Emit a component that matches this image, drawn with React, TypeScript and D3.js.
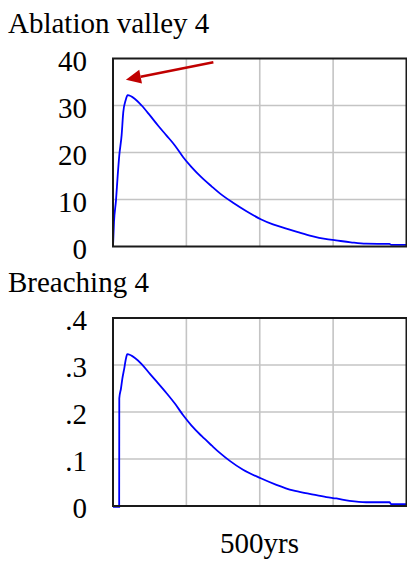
import React from "react";
import * as d3 from "d3";

// ---- data ----
const ablationYears = [0, 1.7, 5.1, 8, 10.7, 14.7, 17.5, 21.5, 25, 37.4, 48.8, 62.9, 77, 91.3, 105.4, 119.6, 133.8, 150.9, 167.9, 182, 204.6, 227.4, 251.7, 272.5, 295.3, 315, 339, 361.5, 380, 405, 431, 471, 474, 500];
const ablationValues = [0, 5.2, 9.8, 15.1, 19.4, 23.7, 28.6, 31.1, 32.2, 31.4, 30.0, 27.9, 25.7, 23.6, 21.5, 19.0, 16.9, 14.7, 12.8, 11.3, 9.3, 7.5, 5.8, 4.7, 3.8, 3.05, 2.2, 1.6, 1.3, 0.9, 0.6, 0.55, 0.35, 0.35];

const breachYears = [0, 10.5, 10.7, 13.6, 15.8, 19.2, 21.5, 24.3, 37.4, 48.8, 62.9, 77, 91.3, 105.4, 119.6, 133.8, 150.9, 167.9, 182, 199, 221.6, 251.7, 278.4, 306.6, 335, 363.5, 380.5, 403, 431, 471, 474, 500];
const breachValues = [-0.002, -0.002, 0.229, 0.25, 0.27, 0.293, 0.31, 0.323, 0.315, 0.302, 0.281, 0.261, 0.24, 0.218, 0.193, 0.171, 0.149, 0.129, 0.113, 0.096, 0.077, 0.059, 0.045, 0.033, 0.026, 0.019, 0.016, 0.011, 0.008, 0.008, 0.004, 0.004];

const xTicks = [125, 250, 375];
const ablationTicks = [0, 10, 20, 30, 40];
const ablationTickLabels = ["0", "10", "20", "30", "40"];
const breachTicks = [0, 0.1, 0.2, 0.3, 0.4];
const breachTickLabels = ["0", ".1", ".2", ".3", ".4"];

const titles = ["Ablation valley 4", "Breaching 4"];
const xLabel = "500yrs";

// arrow annotation in data coordinates (years, value) on the first chart
const arrowFrom = [171, 39.2];
const arrowTo = [22, 35.5];

const FONT = "Liberation Serif, Times New Roman, Tinos, Times, DejaVu Serif, serif";

type PanelProps = {
  top: number;
  years: number[];
  values: number[];
  ticks: number[];
  tickLabels: string[];
  yMax: number;
  title: string;
  arrow?: boolean;
};

function Panel({ top, years, values, ticks, tickLabels, yMax, title, arrow }: PanelProps) {
  const left = 113;
  const right = 406.5;
  const height = 188;
  const x = d3.scaleLinear().domain([0, 500]).range([left, right]);
  const y = d3.scaleLinear().domain([0, yMax]).range([top + height, top]);
  const pts: [number, number][] = years.map((t, i) => [t, values[i]]);
  const line = d3
    .line<[number, number]>()
    .curve(d3.curveMonotoneX)
    .x((d) => x(d[0]))
    .y((d) => y(d[1]))(pts) as string;

  let arrowEl = null;
  if (arrow) {
    const x1 = x(arrowFrom[0]);
    const y1 = y(arrowFrom[1]);
    const x2 = x(arrowTo[0]);
    const y2 = y(arrowTo[1]);
    const ang = Math.atan2(y2 - y1, x2 - x1);
    const L = 15;
    const W = 7;
    const bx = x2 - L * Math.cos(ang);
    const by = y2 - L * Math.sin(ang);
    const px = -Math.sin(ang) * W;
    const py = Math.cos(ang) * W;
    arrowEl = (
      <g>
        <line x1={x1} y1={y1} x2={bx} y2={by} stroke="#c00000" strokeWidth={2.5} />
        <polygon
          points={`${x2},${y2} ${bx + px},${by + py} ${bx - px},${by - py}`}
          fill="#c00000"
        />
      </g>
    );
  }

  return (
    <g>
      <text x={8} y={top - 26} style={{ fontFamily: FONT, fontSize: 29 }} fill="#000">
        {title}
      </text>
      {ticks.slice(1, -1).map((t) => (
        <line key={"h" + t} x1={left} x2={right} y1={y(t)} y2={y(t)} stroke="#c4c4c4" strokeWidth={1.6} />
      ))}
      {xTicks.map((t) => (
        <line key={"v" + t} x1={x(t)} x2={x(t)} y1={top} y2={top + height} stroke="#c4c4c4" strokeWidth={1.6} />
      ))}
      {ticks.map((t, i) => (
        <text key={"l" + t} x={87} y={y(t) + 12} textAnchor="end" style={{ fontFamily: FONT, fontSize: 29 }} fill="#000">
          {tickLabels[i]}
        </text>
      ))}
      <path d={line} fill="none" stroke="#0000ff" strokeWidth={1.8} />
      <rect x={left} y={top} width={right - left} height={height} fill="none" stroke="#1a1a1a" strokeWidth={2} />
      {arrowEl}
    </g>
  );
}

export default function App() {
  return (
    <svg
      width={407}
      height={566}
      style={{ position: "absolute", left: 0, top: 0, background: "#fff" }}
    >
      <rect x={0} y={0} width={407} height={566} fill="#fff" />
      <Panel
        top={58.5}
        years={ablationYears}
        values={ablationValues}
        ticks={ablationTicks}
        tickLabels={ablationTickLabels}
        yMax={40}
        title={titles[0]}
        arrow
      />
      <Panel
        top={318}
        years={breachYears}
        values={breachValues}
        ticks={breachTicks}
        tickLabels={breachTickLabels}
        yMax={0.4}
        title={titles[1]}
      />
      <text x={259.5} y={553} textAnchor="middle" style={{ fontFamily: FONT, fontSize: 29 }} fill="#000">
        {xLabel}
      </text>
    </svg>
  );
}
